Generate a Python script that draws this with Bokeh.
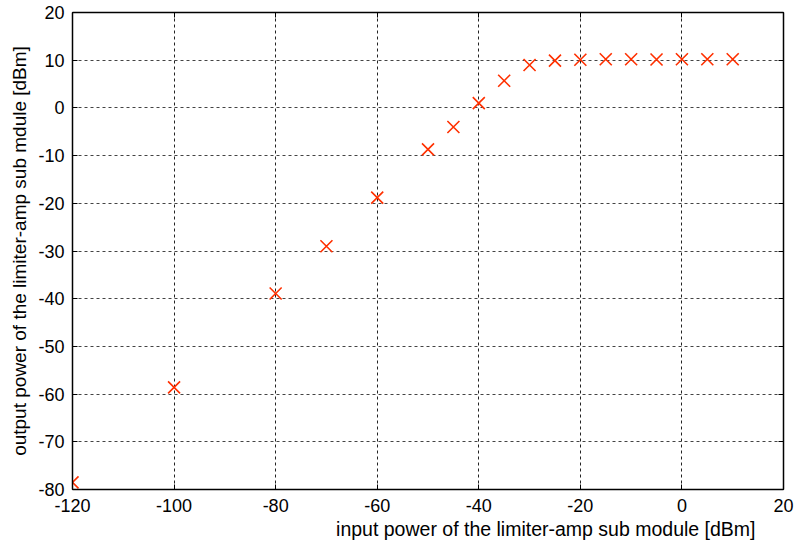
from bokeh.plotting import figure
from bokeh.models import LinearAxis, Range1d, FixedTicker, Title
from bokeh.embed import file_html
from bokeh.resources import INLINE

# input power [dBm] and measured output power [dBm] of the limiter-amp sub module
input_dbm = [-120, -100, -80, -70, -60, -50, -45, -40, -35, -30, -25, -20, -15, -10, -5, 0, 5, 10]
output_dbm = [-78.5, -58.6, -38.9, -29.0, -18.8, -8.7, -4.0, 1.0, 5.7, 9.0, 9.9, 10.1, 10.2, 10.2, 10.15, 10.2, 10.2, 10.2]

x_ticks = [-120, -100, -80, -60, -40, -20, 0, 20]
y_ticks = [-80, -70, -60, -50, -40, -30, -20, -10, 0, 10, 20]

FONT = "Liberation Sans"

p = figure(width=795, height=549, output_backend="svg", toolbar_location=None,
           x_range=Range1d(-120, 20), y_range=Range1d(-80, 20),
           min_border_left=72, min_border_right=12, min_border_top=12, min_border_bottom=60)
p.background_fill_color = "white"
p.border_fill_color = "white"
p.outline_line_color = "black"
p.outline_line_width = 1

for ax in (p.xaxis[0], p.yaxis[0]):
    ax.axis_line_color = "black"
    ax.axis_line_width = 1.5
    ax.major_tick_in = 5
    ax.major_tick_out = 0
    ax.minor_tick_line_color = None
    ax.major_label_text_font = FONT
    ax.major_label_text_font_size = "18px"
    ax.major_label_text_color = "black"

p.xaxis[0].ticker = FixedTicker(ticks=x_ticks)
p.yaxis[0].ticker = FixedTicker(ticks=y_ticks)
# plain hyphen-minus for negative tick values
p.xaxis[0].major_label_overrides = {t: str(t) for t in x_ticks}
p.yaxis[0].major_label_overrides = {t: str(t) for t in y_ticks}
p.xaxis[0].major_label_standoff = 9
p.yaxis[0].major_label_standoff = 8

p.yaxis[0].axis_label = "output power of the limiter-amp sub mdule [dBm]"
p.yaxis[0].axis_label_text_font = FONT
p.yaxis[0].axis_label_text_font_size = "19px"
p.yaxis[0].axis_label_text_font_style = "normal"
p.yaxis[0].axis_label_text_color = "black"
p.yaxis[0].axis_label_standoff = 5

# inward ticks on the top and right sides as well, without labels
top = LinearAxis(ticker=FixedTicker(ticks=x_ticks),
                 major_label_overrides={t: "" for t in x_ticks},
                 major_tick_in=5, major_tick_out=0, minor_tick_line_color=None,
                 axis_line_color="black", axis_line_width=1.5, major_label_standoff=0)
right = LinearAxis(ticker=FixedTicker(ticks=y_ticks),
                   major_label_overrides={t: "" for t in y_ticks},
                   major_tick_in=5, major_tick_out=0, minor_tick_line_color=None,
                   axis_line_color="black", axis_line_width=1.5, major_label_standoff=0)
p.add_layout(top, "above")
p.add_layout(right, "right")

p.xgrid.ticker = FixedTicker(ticks=x_ticks)
p.ygrid.ticker = FixedTicker(ticks=y_ticks)
p.xgrid.grid_line_color = "#222222"
p.ygrid.grid_line_color = "#444444"
p.grid.grid_line_dash = "3 3"
p.grid.grid_line_width = 1

p.scatter(input_dbm, output_dbm, marker="x", size=17, line_color="#ff3000", line_width=1.6)

xlabel = Title(text="input power of the limiter-amp sub module [dBm]", align="right",
               offset=28, text_font=FONT, text_font_size="19.5px",
               text_font_style="normal", text_color="black", standoff=3)
p.add_layout(xlabel, "below")

open("out.html", "w").write(file_html(p, INLINE))
